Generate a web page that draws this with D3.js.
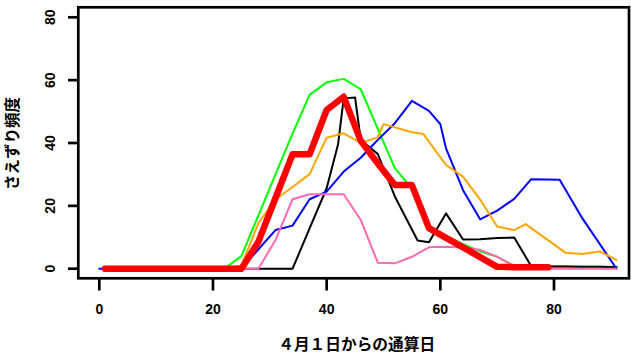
<!DOCTYPE html>
<html><head><meta charset="utf-8">
<script src="https://cdn.jsdelivr.net/npm/d3@7"></script>
<style>body{margin:0;background:#fff} svg{display:block}</style>
</head><body>
<svg id="c" width="631" height="356"></svg>
<script>
// ---- data ----
const gridDays = [1,4,7,10,13,16,19,22,25,28,31,34,37,40,43,46,49,52,55,58,61,64,67,70,73,76,79,82,85,88,91];
const greenVals = [0,0,0,0,0,0,0,0,4,17,30,43,55.3,59.3,60.4,57.1,44.5,32,25.5,13,10.5,7.8,5.5,3.8,0.9,0.7,0.7,0.7,0.6,0.6,0.6];
const pinkVals = [0,0,0,0,0,0,0,0,0,0,9.1,22.1,23.7,23.7,23.7,15.5,1.9,1.7,3.8,6.8,7,6.7,6,3.8,0.9,0,0,0,0,0,0];
const redDays = [1,4,7,10,13,16,19,22,25,28,31,34,37,40,43,46,49,52,55,58,61,64,67,70,73,76,79];
const redVals = [0,0,0,0,0,0,0,0,0,8.6,22.5,36.4,36.4,50.5,54.7,40.7,33.5,26.6,26.6,12.9,9.8,6.8,3.7,0.6,0.5,0.5,0.5];
const blackDays = [1,34,37,40,42,43,45,46,49,52,56,58,61,64,67,70,73,76,79,82,85,88,91];
const blackVals = [0,0,12.8,25.6,39.5,54.2,54.5,41,36.5,23,9,8.4,17.6,9.3,9.4,9.8,9.9,0.8,0.7,0.7,0.6,0.6,0.5];
const blueDays = [0,25,28,31,34,37,40,43,46,49,52,55,58,60,61,64,67,70,73,76,81,85,91];
const blueVals = [0,0,6.2,12.3,13.7,22.1,24.5,30.9,35.3,41,46.3,53.4,50.2,46,38.3,25,15.7,18.5,22.2,28.5,28.3,16,0];
const orangeDays = [1,22,25,28,31,34,37,40,43,46,49,50,55,57,61,64,67,70,73,75,82,85,88,91];
const orangeVals = [0,0,1,14.5,22,26,30.1,41.7,43.1,40,41.8,46,43.4,42.9,33,29.3,22,13.4,12.3,14.2,5.1,4.7,5.5,2.8];
const xTicks = [0,20,40,60,80];
const yTicks = [0,20,40,60,80];
const xTitle = "４月１日からの通算日";
const yTitle = "さえずり頻度";

// ---- layout ----
const svg = d3.select("#c");
const box = {l:78.3, r:629, t:7.3, b:278.3};
const x = d3.scaleLinear().domain([0,80]).range([99.3,554]);
const y = d3.scaleLinear().domain([0,80]).range([268.7,17.3]);
const numFont = "'Liberation Sans', Arial, sans-serif";
const cjkFont = "'Noto Sans CJK JP', sans-serif";

const series = [
  {d:gridDays, v:greenVals, c:"#00ff00", w:2},
  {d:blackDays, v:blackVals, c:"#000000", w:2},
  {d:blueDays, v:blueVals, c:"#0000ff", w:2},
  {d:orangeDays, v:orangeVals, c:"#ffa500", w:2},
  {d:gridDays, v:pinkVals, c:"#ff69b4", w:2},
  {d:redDays, v:redVals, c:"#ff0000", w:6.5}
];
const line = d3.line().x(p=>x(p[0])).y(p=>y(p[1]));
series.forEach(s=>{
  svg.append("path")
    .attr("d", line(s.d.map((dd,i)=>[dd, s.v[i]])))
    .attr("fill","none").attr("stroke",s.c).attr("stroke-width",s.w)
    .attr("stroke-linejoin","round").attr("stroke-linecap","round");
});

// box
svg.append("rect").attr("x",box.l).attr("y",box.t)
  .attr("width",box.r-box.l).attr("height",box.b-box.t)
  .attr("fill","none").attr("stroke","#000").attr("stroke-width",2.7);

// x axis ticks
const xa = svg.append("g");
xTicks.forEach(t=>{
  xa.append("line").attr("x1",x(t)).attr("x2",x(t)).attr("y1",box.b).attr("y2",290.5)
    .attr("stroke","#000").attr("stroke-width",2.7);
  xa.append("text").attr("x",x(t)).attr("y",313.5).attr("text-anchor","middle")
    .attr("font-family",numFont).attr("font-weight","bold").attr("font-size",14).text(t);
});
// y axis ticks
const ya = svg.append("g");
yTicks.forEach(t=>{
  ya.append("line").attr("x1",68).attr("x2",box.l).attr("y1",y(t)).attr("y2",y(t))
    .attr("stroke","#000").attr("stroke-width",2.7);
  ya.append("text").attr("transform",`translate(55,${y(t)}) rotate(-90)`)
    .attr("text-anchor","middle")
    .attr("font-family",numFont).attr("font-weight","bold").attr("font-size",14).text(t);
});

// titles
svg.append("text").attr("x",356.7).attr("y",350).attr("text-anchor","middle")
  .attr("font-family",cjkFont).attr("font-weight","bold").attr("font-size",15.7).text(xTitle);
svg.append("text").attr("transform","translate(11,143.5) rotate(-90)")
  .attr("text-anchor","middle").attr("dominant-baseline","central")
  .attr("font-family",cjkFont).attr("font-weight","bold").attr("font-size",15.5).text(yTitle);
</script>
</body></html>
